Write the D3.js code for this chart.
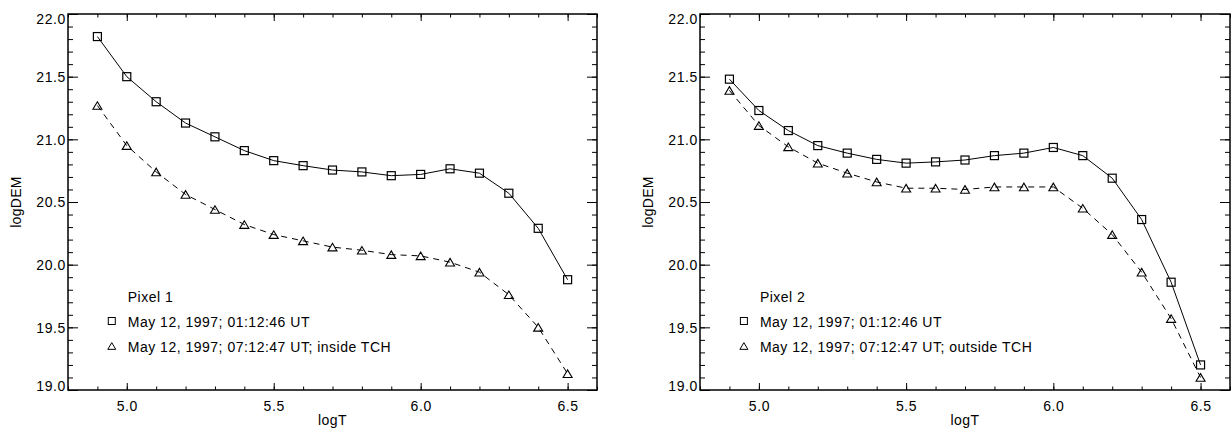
<!DOCTYPE html>
<html>
<head>
<meta charset="utf-8">
<script src="https://cdn.jsdelivr.net/npm/d3@7"></script>
<style>
  body { margin: 0; background: #fff; }
  text { font-family: "Liberation Sans", Arial, Helvetica, sans-serif; fill: #000; }
</style>
</head>
<body>
<div id="chart"></div>
<script>
// logT grid (same for every curve)
const logT = [4.9, 5.0, 5.1, 5.2, 5.3, 5.4, 5.5, 5.6, 5.7, 5.8, 5.9, 6.0, 6.1, 6.2, 6.3, 6.4, 6.5];

// Pixel 1
const pix1Early = [21.82, 21.50, 21.30, 21.13, 21.02, 20.91, 20.83, 20.79, 20.755, 20.74, 20.71, 20.72, 20.765, 20.73, 20.57, 20.29, 19.88];
const pix1Late  = [21.27, 20.95, 20.74, 20.56, 20.44, 20.32, 20.24, 20.19, 20.14, 20.115, 20.08, 20.07, 20.02, 19.94, 19.76, 19.50, 19.13];

// Pixel 2
const pix2Early = [21.48, 21.23, 21.07, 20.95, 20.89, 20.84, 20.81, 20.82, 20.835, 20.87, 20.89, 20.935, 20.87, 20.69, 20.36, 19.86, 19.20];
const pix2Late  = [21.39, 21.11, 20.94, 20.81, 20.73, 20.66, 20.61, 20.61, 20.60, 20.62, 20.62, 20.62, 20.45, 20.24, 19.94, 19.57, 19.10];

const xTicks = [5.0, 5.5, 6.0, 6.5];
const yTicks = [19.0, 19.5, 20.0, 20.5, 21.0, 21.5, 22.0];

const legendLabels1 = ["Pixel 1", "May 12, 1997; 01:12:46 UT", "May 12, 1997; 07:12:47 UT; inside TCH"];
const legendLabels2 = ["Pixel 2", "May 12, 1997; 01:12:46 UT", "May 12, 1997; 07:12:47 UT; outside TCH"];

const W = 1231, H = 428;
const svg = d3.select("#chart").append("svg")
  .attr("width", W).attr("height", H);

const plotTop = 14, plotBottom = 390;

function trianglePath(s) {
  // open triangle, centred on its bounding box
  return `M${-s / 2},${s * 0.42} L0,${-s * 0.42} L${s / 2},${s * 0.42} Z`;
}

function drawPanel(left, right, early, late, labels) {
  const x = d3.scaleLinear().domain([4.8, 6.6]).range([left, right]);
  const y = d3.scaleLinear().domain([19.0, 22.0]).range([plotBottom, plotTop]);
  const g = svg.append("g");

  const xMinor = d3.range(48, 67).map(d => d / 10);
  const yMinor = d3.range(190, 221).map(d => d / 10);

  // minor ticks
  g.append("g").attr("transform", `translate(0,${plotBottom})`)
    .call(d3.axisBottom(x).tickValues(xMinor).tickSize(-3.5).tickFormat(""));
  g.append("g").attr("transform", `translate(0,${plotTop})`)
    .call(d3.axisTop(x).tickValues(xMinor).tickSize(-3.5).tickFormat(""));
  g.append("g").attr("transform", `translate(${left},0)`)
    .call(d3.axisLeft(y).tickValues(yMinor).tickSize(-5).tickFormat(""));
  g.append("g").attr("transform", `translate(${right},0)`)
    .call(d3.axisRight(y).tickValues(yMinor).tickSize(-5).tickFormat(""));

  // major ticks
  g.append("g").attr("transform", `translate(0,${plotBottom})`)
    .call(d3.axisBottom(x).tickValues(xTicks).tickSize(-7).tickPadding(11).tickFormat(d3.format(".1f")));
  g.append("g").attr("transform", `translate(0,${plotTop})`)
    .call(d3.axisTop(x).tickValues(xTicks).tickSize(-7).tickFormat(""));
  const yAx = g.append("g").attr("transform", `translate(${left},0)`)
    .call(d3.axisLeft(y).tickValues(yTicks).tickSize(-10).tickPadding(2).tickFormat(d3.format(".1f")));
  g.append("g").attr("transform", `translate(${right},0)`)
    .call(d3.axisRight(y).tickValues(yTicks).tickSize(-10).tickFormat(""));

  // IDL nudges the end labels inside the box
  yAx.selectAll(".tick text")
    .attr("dy", d => d === 22.0 ? "0.68em" : d === 19.0 ? "0.02em" : "0.34em");

  g.selectAll(".domain").remove();
  g.selectAll(".tick line").attr("stroke", "#000").attr("stroke-width", 1);
  g.selectAll(".tick text").style("font-size", "14px")
    .style("letter-spacing", "0.6px")
    .style("font-family", "'Liberation Sans', Arial, sans-serif").attr("fill", "#000");

  // frame
  g.append("rect")
    .attr("x", left).attr("y", plotTop)
    .attr("width", right - left).attr("height", plotBottom - plotTop)
    .attr("fill", "none").attr("stroke", "#000").attr("stroke-width", 1.5);

  // axis titles
  g.append("text")
    .attr("x", (left + right) / 2).attr("y", 425)
    .attr("text-anchor", "middle").style("font-size", "14px").style("letter-spacing", "0.5px")
    .text("logT");
  g.append("text")
    .attr("transform", `translate(${left - 47},${(plotTop + plotBottom) / 2}) rotate(-90)`)
    .attr("text-anchor", "middle").style("font-size", "14px").style("letter-spacing", "0.3px")
    .text("logDEM");

  const line = d3.line()
    .x((d, i) => x(logT[i]))
    .y(d => y(d));

  g.append("path").datum(early)
    .attr("fill", "none").attr("stroke", "#000").attr("stroke-width", 1)
    .attr("d", line);
  g.append("path").datum(late)
    .attr("fill", "none").attr("stroke", "#000").attr("stroke-width", 1)
    .attr("stroke-dasharray", "6,5")
    .attr("d", line);

  g.selectAll("rect.sq").data(early).enter().append("rect")
    .attr("class", "sq")
    .attr("x", (d, i) => x(logT[i]) - 4)
    .attr("y", d => y(d) - 4)
    .attr("width", 8).attr("height", 8)
    .attr("fill", "none").attr("stroke", "#000").attr("stroke-width", 1.2);

  g.selectAll("path.tri").data(late).enter().append("path")
    .attr("class", "tri")
    .attr("transform", (d, i) => `translate(${x(logT[i])},${y(d)})`)
    .attr("d", trianglePath(9))
    .attr("fill", "none").attr("stroke", "#000").attr("stroke-width", 1.1);

  // legend
  const lx = x(5.0) + 1, sx = x(5.0) - 15;
  const leg = g.append("g").style("font-size", "14px").style("letter-spacing", "0.5px");
  leg.append("text").attr("x", lx).attr("y", 302).text(labels[0]);
  leg.append("text").attr("x", lx).attr("y", 327).text(labels[1]);
  leg.append("text").attr("x", lx).attr("y", 352).text(labels[2]);
  g.append("rect").attr("x", sx - 3.5).attr("y", 317.5).attr("width", 7).attr("height", 7)
    .attr("fill", "none").attr("stroke", "#000").attr("stroke-width", 1);
  g.append("path").attr("transform", `translate(${sx},346)`)
    .attr("d", trianglePath(8))
    .attr("fill", "none").attr("stroke", "#000").attr("stroke-width", 1);
}

drawPanel(68, 597, pix1Early, pix1Late, legendLabels1);
drawPanel(700, 1230, pix2Early, pix2Late, legendLabels2);
</script>
</body>
</html>
